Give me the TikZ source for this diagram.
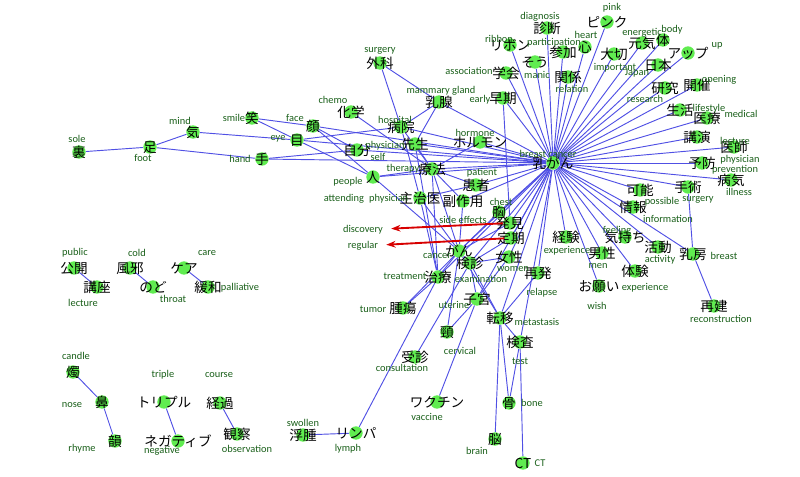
\documentclass[tikz,border=0pt]{standalone}
\usepackage{fontspec}
\setmainfont{Carlito}
\newfontfamily\jpfont{Noto Sans CJK JP}
\usetikzlibrary{arrows.meta,backgrounds}

\definecolor{dotgreen}{RGB}{96,236,80}
\definecolor{linkblue}{RGB}{80,80,228}
\definecolor{glossgreen}{RGB}{25,95,25}
\definecolor{callred}{RGB}{215,0,0}

% word set on top of its dot
\newcommand{\jw}[1]{\raisebox{-0.38em}[0pt][0pt]{\makebox[0pt]{#1}}}

\begin{document}
\begin{tikzpicture}[x=0.75pt,y=-0.75pt]
      \tikzstyle{dot}=[circle,fill=dotgreen,minimum size=10pt,inner sep=0pt,
        font=\jpfont\fontsize{10.2}{11}\selectfont]
      \tikzstyle{gloss}=[inner sep=0pt,text=glossgreen,font=\fontsize{7.8}{8}\selectfont]
      \tikzstyle{link}=[draw=linkblue,line width=0.7pt]
      \tikzstyle{callout}=[draw=callred,line width=1.4pt,
        -{Stealth[length=7pt,width=5pt]},shorten >=6pt]

      \useasboundingbox (0,0) rectangle (800,477);

      % hub
      \node[dot] (nyugan) at (553,163) {\jw{乳がん}};

      % left cluster
      \node[dot] (ura) at (79,152) {\jw{裏}};
      \node[dot] (ashi) at (150,147) {\jw{足}};
      \node[dot] (ki) at (193,132) {\jw{気}};
      \node[dot] (emi) at (252,118) {\jw{笑}};
      \node[dot] (kao) at (313,126) {\jw{顔}};
      \node[dot] (me) at (297,140) {\jw{目}};
      \node[dot] (te) at (262,159) {\jw{手}};
      \node[dot] (jibun) at (357,150) {\jw{自分}};
      \node[dot] (hito) at (373,177) {\jw{人}};
      \node[dot] (kagaku) at (351,112) {\jw{化学}};
      \node[dot] (geka) at (380,63) {\jw{外科}};
      \node[dot] (nyusen) at (439,102) {\jw{乳腺}};
      \node[dot] (byoin) at (401,127) {\jw{病院}};
      \node[dot] (sensei) at (415,144) {\jw{先生}};
      \node[dot] (horumon) at (480,142) {\jw{ホルモン}};
      \node[dot] (ryoho) at (432,169) {\jw{療法}};
      \node[dot] (kanja) at (476,185) {\jw{患者}};
      \node[dot] (shujii) at (420,198) {\jw{主治医}};
      \node[dot] (fukusayo) at (463,201) {\jw{副作用}};

      % lower middle
      \node[dot] (mune) at (499,212) {\jw{胸}};
      \node[dot] (hakken) at (510,223) {\jw{発見}};
      \node[dot] (teiki) at (511,238) {\jw{定期}};
      \node[dot] (gan) at (459,251) {\jw{がん}};
      \node[dot] (kenshin) at (470,263) {\jw{検診}};
      \node[dot] (josei) at (509,257) {\jw{女性}};
      \node[dot] (chiryo) at (438,277) {\jw{治療}};
      \node[dot] (shikyu) at (477,299) {\jw{子宮}};
      \node[dot] (shuyo) at (403,308) {\jw{腫瘍}};
      \node[dot] (kei) at (447,332) {\jw{頸}};
      \node[dot] (teni) at (500,318) {\jw{転移}};
      \node[dot] (jushin) at (415,357) {\jw{受診}};
      \node[dot] (kensa) at (520,342) {\jw{検査}};
      \node[dot] (saihatsu) at (538,273) {\jw{再発}};
      \node[dot] (wakuchin) at (437,402) {\jw{ワクチン}};
      \node[dot] (hone) at (509,403) {\jw{骨}};
      \node[dot] (nou) at (495,439) {\jw{脳}};
      \node[dot] (ct) at (523,463) {\jw{CT}};
      \node[dot] (fushu) at (303,435) {\jw{浮腫}};
      \node[dot] (rinpa) at (356,433) {\jw{リンパ}};

      % upper right
      \node[dot] (shindan) at (547,28) {\jw{診断}};
      \node[dot] (pinku) at (607,22) {\jw{ピンク}};
      \node[dot] (ribon) at (510,45) {\jw{リボン}};
      \node[dot] (sanka) at (563,52) {\jw{参加}};
      \node[dot] (kokoro) at (585,47) {\jw{心}};
      \node[dot] (genki) at (642,43) {\jw{元気}};
      \node[dot] (karada) at (663,40) {\jw{体}};
      \node[dot] (appu) at (688,53) {\jw{アップ}};
      \node[dot] (taisetsu) at (614,54) {\jw{大切}};
      \node[dot] (nihon) at (658,65) {\jw{日本}};
      \node[dot] (sou) at (535,62) {\jw{そう}};
      \node[dot] (gakkai) at (506,73) {\jw{学会}};
      \node[dot] (kankei) at (568,77) {\jw{関係}};
      \node[dot] (soki) at (503,98) {\jw{早期}};
      \node[dot] (kenkyu) at (665,88) {\jw{研究}};
      \node[dot] (kaisai) at (697,85) {\jw{開催}};
      \node[dot] (seikatsu) at (680,110) {\jw{生活}};
      \node[dot] (iryo) at (707,118) {\jw{医療}};
      \node[dot] (koen) at (697,137) {\jw{講演}};
      \node[dot] (ishi) at (734,147) {\jw{医師}};
      \node[dot] (yobo) at (702,163) {\jw{予防}};
      \node[dot] (byoki) at (731,180) {\jw{病気}};
      \node[dot] (shujutsu) at (688,187) {\jw{手術}};
      \node[dot] (kano) at (640,190) {\jw{可能}};
      \node[dot] (joho) at (633,207) {\jw{情報}};
      \node[dot] (keiken) at (566,237) {\jw{経験}};
      \node[dot] (kimochi) at (625,237) {\jw{気持ち}};
      \node[dot] (dansei) at (602,253) {\jw{男性}};
      \node[dot] (katsudo) at (658,247) {\jw{活動}};
      \node[dot] (nyubo) at (693,254) {\jw{乳房}};
      \node[dot] (taiken) at (635,271) {\jw{体験}};
      \node[dot] (onegai) at (599,286) {\jw{お願い}};
      \node[dot] (saiken) at (714,306) {\jw{再建}};

      % small pairs, bottom left
      \node[dot] (kokai) at (74,268) {\jw{公開}};
      \node[dot] (koza) at (97,287) {\jw{講座}};
      \node[dot] (kaze) at (130,268) {\jw{風邪}};
      \node[dot] (nodo) at (153,287) {\jw{のど}};
      \node[dot] (kea) at (184,268) {\jw{ケア}};
      \node[dot] (kanwa) at (208,287) {\jw{緩和}};
      \node[dot] (shoku) at (73,372) {\jw{燭}};
      \node[dot] (hana) at (102,402) {\jw{鼻}};
      \node[dot] (inrin) at (115,441) {\jw{韻}};
      \node[dot] (toripuru) at (164,402) {\jw{トリプル}};
      \node[dot] (negatibu) at (178,441) {\jw{ネガティブ}};
      \node[dot] (keika) at (220,403) {\jw{経過}};
      \node[dot] (kansatsu) at (237,434) {\jw{観察}};

      % english glosses
      \foreach \n/\x/\y/\g in {nyugan/548/154/breast cancer, ura/77/139/sole,
          ashi/143/158/foot, ki/180/121/mind, emi/234/118/smile, kao/295/118/face,
          me/278/139/eye, te/240/159/hand, jibun/378/157/self, hito/348/182/people,
          kagaku/333/100/chemo, geka/380/51/surgery, nyusen/441/91/mammary gland,
          byoin/395/121/hospital, sensei/385/146/physician, horumon/475/133/hormone,
          ryoho/403/169/therapy, kanja/482/173/patient,
          shujii/366/199/attending\enspace physician, fukusayo/463/220/side effects,
          mune/501/202/chest, hakken/363/230/discovery, teiki/363/246/regular,
          gan/437/256/cancer, kenshin/481/279/examination, josei/513/269/women,
          chiryo/405/276/treatment, shikyu/454/305/uterine, shuyo/373/309/tumor,
          kei/460/351/cervical, teni/537/322/metastasis, jushin/402/368/consultation,
          kensa/520/361/test, saihatsu/542/293/relapse, wakuchin/427/417/vaccine,
          hone/532/403/bone, nou/477/451/brain, ct/540/463/CT, fushu/303/423/swollen,
          rinpa/348/449/lymph, shindan/540/17/diagnosis, pinku/612/8/pink,
          ribon/499/39/ribbon, sanka/554/43/participation, kokoro/586/35/heart,
          genki/642/33/energetic, karada/672/30/body, appu/717/46/up,
          taisetsu/615/68/important, nihon/637/73/Japan, sou/537/75/manic,
          gakkai/469/71/association, kankei/572/89/relation, soki/480/100/early,
          kenkyu/645/99/research, kaisai/719/80/opening, seikatsu/709/109/lifestyle,
          iryo/741/114/medical, koen/735/141/lecture, ishi/740/160/physician,
          yobo/735/170/prevention, byoki/739/192/illness, shujutsu/698/200/surgery,
          kano/662/202/possible, joho/668/219/information, keiken/567/251/experience,
          kimochi/617/231/feeling, dansei/598/266/men, katsudo/660/260/activity,
          nyubo/724/256/breast, taiken/645/288/experience, onegai/597/306/wish,
          saiken/721/319/reconstruction, kokai/75/253/public, koza/83/303/lecture,
          kaze/137/253/cold, nodo/173/299/throat, kea/207/253/care,
          kanwa/240/288/palliative, shoku/76/356/candle, hana/72/405/nose,
          inrin/82/449/rhyme, toripuru/163/375/triple, negatibu/162/451/negative,
          keika/219/375/course, kansatsu/247/449/observation}
        \node[gloss] (g-\n) at (\x,\y) {\g};

      \begin{scope}[on background layer]
        \foreach \m in {shindan,pinku,ribon,sanka,kokoro,genki,karada,appu,
            taisetsu,nihon,sou,gakkai,kankei,soki,kenkyu,kaisai,seikatsu,iryo,
            koen,ishi,yobo,byoki,shujutsu,kano,joho,keiken,kimochi,dansei,
            katsudo,nyubo,taiken,onegai,saihatsu,josei,teiki,hakken,mune,
            kenshin,gan,chiryo,shikyu,teni,kensa,ryoho,kanja,horumon,sensei,
            byoin,nyusen,jibun,te,kao,me,hito,fukusayo}
          \draw[link] (nyugan) -- (\m);

        \draw[link] (ura) -- (ashi);
        \draw[link] (ashi) -- (ki);
        \draw[link] (ashi) -- (te);
        \draw[link] (ki) -- (me);
        \draw[link] (emi) -- (kao);
        \draw[link] (emi) -- (me);
        \draw[link] (kao) -- (jibun);
        \draw[link] (kao) -- (hito);
        \draw[link] (me) -- (byoin);
        \draw[link] (me) -- (hito);
        \draw[link] (te) -- (jibun);
        \draw[link] (hito) -- (ryoho);
        \draw[link] (hito) -- (gan);
        \draw[link] (kagaku) -- (ryoho);
        \draw[link] (geka) -- (byoin);
        \draw[link] (geka) -- (nyusen);
        \draw[link] (nyusen) -- (byoin);
        \draw[link] (nyusen) -- (sensei);
        \draw[link] (byoin) -- (ryoho);
        \draw[link] (byoin) -- (shujii);
        \draw[link] (sensei) -- (ryoho);
        \draw[link] (sensei) -- (chiryo);
        \draw[link] (horumon) -- (ryoho);
        \draw[link] (ryoho) -- (kanja);
        \draw[link] (ryoho) -- (fukusayo);
        \draw[link] (ryoho) -- (gan);
        \draw[link] (ryoho) -- (chiryo);
        \draw[link] (kanja) -- (shujii);
        \draw[link] (shujii) -- (chiryo);
        \draw[link] (shujii) -- (gan);
        \draw[link] (fukusayo) -- (gan);
        \draw[link] (soki) -- (hakken);
        \draw[link] (mune) -- (gan);
        \draw[link] (hakken) -- (gan);
        \draw[link] (teiki) -- (kenshin);
        \draw[link] (gan) -- (kenshin);
        \draw[link] (gan) -- (chiryo);
        \draw[link] (gan) -- (teni);
        \draw[link] (gan) -- (shuyo);
        \draw[link] (gan) -- (kei);
        \draw[link] (kenshin) -- (josei);
        \draw[link] (kenshin) -- (shikyu);
        \draw[link] (kenshin) -- (jushin);
        \draw[link] (kenshin) -- (teni);
        \draw[link] (chiryo) -- (shuyo);
        \draw[link] (chiryo) -- (rinpa);
        \draw[link] (shikyu) -- (kei);
        \draw[link] (shikyu) -- (wakuchin);
        \draw[link] (josei) -- (shikyu);
        \draw[link] (teni) -- (kensa);
        \draw[link] (teni) -- (hone);
        \draw[link] (teni) -- (nou);
        \draw[link] (teni) -- (saihatsu);
        \draw[link] (kensa) -- (hone);
        \draw[link] (kensa) -- (ct);
        \draw[link] (shujutsu) -- (nyubo);
        \draw[link] (nyubo) -- (saiken);
        \draw[link] (fushu) -- (rinpa);
        \draw[link] (kokai) -- (koza);
        \draw[link] (kaze) -- (nodo);
        \draw[link] (kea) -- (kanwa);
        \draw[link] (shoku) -- (hana);
        \draw[link] (hana) -- (inrin);
        \draw[link] (toripuru) -- (negatibu);
        \draw[link] (keika) -- (kansatsu);
      \end{scope}

      \draw[callout] (hakken) -- (g-hakken);
      \draw[callout] (teiki) -- (g-teiki);
    \end{tikzpicture}
\end{document}
